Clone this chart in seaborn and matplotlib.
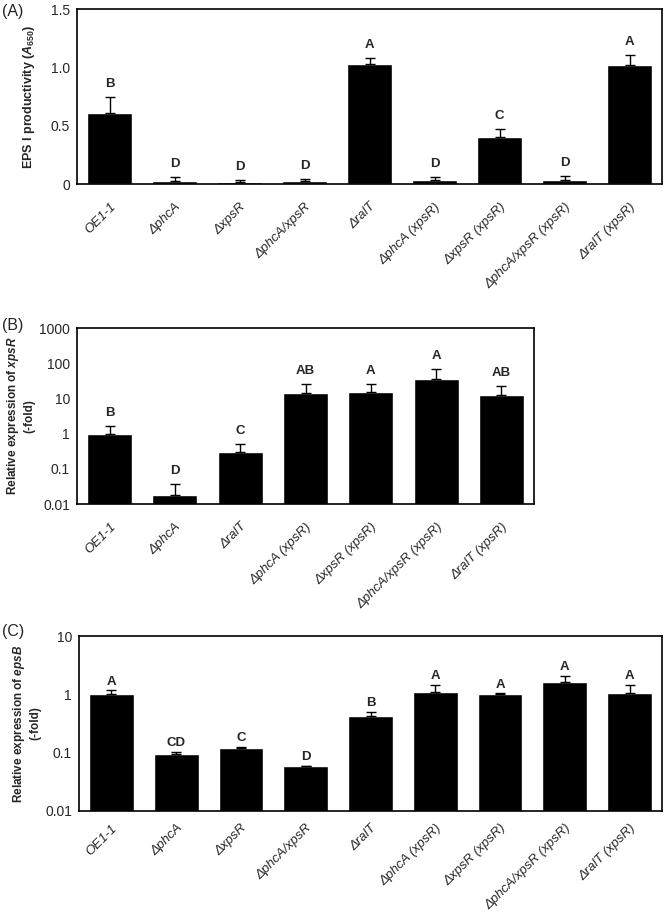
import numpy as np
import pandas as pd
import matplotlib
matplotlib.use("Agg")
import matplotlib.pyplot as plt
import seaborn as sns

# strains and values
strains_a = ["OE1-1", "ΔphcA", "ΔxpsR", "ΔphcA/xpsR", "ΔralT",
             "ΔphcA (xpsR)", "ΔxpsR (xpsR)", "ΔphcA/xpsR (xpsR)", "ΔralT (xpsR)"]
eps_mean = [0.606, 0.026, 0.020, 0.026, 1.03, 0.034, 0.406, 0.034, 1.02]
eps_err = [0.137, 0.031, 0.011, 0.014, 0.047, 0.023, 0.065, 0.032, 0.086]
letters_a = ["B", "D", "D", "D", "A", "D", "C", "D", "A"]

strains_b = ["OE1-1", "ΔphcA", "ΔralT", "ΔphcA (xpsR)", "ΔxpsR (xpsR)",
             "ΔphcA/xpsR (xpsR)", "ΔralT (xpsR)"]
xpsr_mean = [1.0, 0.018, 0.30, 13.8, 14.8, 34.5, 12.2]
xpsr_err = [0.68, 0.018, 0.22, 11.2, 11.7, 34.5, 10.6]
letters_b = ["B", "D", "C", "AB", "A", "A", "AB"]

strains_c = strains_a
epsb_mean = [1.0, 0.094, 0.120, 0.058, 0.43, 1.11, 1.01, 1.64, 1.05]
epsb_err = [0.17, 0.009, 0.007, 0.002, 0.07, 0.33, 0.03, 0.41, 0.39]
letters_c = ["A", "CD", "C", "D", "B", "A", "A", "A", "A"]

sns.set_style("white")
plt.rcParams["font.family"] = ["Liberation Sans", "DejaVu Sans"]
plt.rcParams["mathtext.fontset"] = "custom"
plt.rcParams["mathtext.it"] = "Liberation Sans:italic:bold"
plt.rcParams["mathtext.rm"] = "Liberation Sans:bold"

fig = plt.figure(figsize=(6.66, 9.14), dpi=100)
W, H = 666, 914


def add_ax(left, top, right, bottom):
    return fig.add_axes([left / W, 1 - bottom / H, (right - left) / W, (bottom - top) / H])


def panel(ax, names, mean, err, letters, offset, xpad=12):
    df = pd.DataFrame({"strain": names, "value": mean})
    sns.barplot(data=df, x="strain", y="value", color="black", width=0.69,
                saturation=1, ax=ax)
    x = np.arange(len(names))
    ax.errorbar(x, mean, yerr=[np.zeros(len(err)), err], fmt="none",
                ecolor="black", elinewidth=1, capsize=3.5, capthick=1)
    for xi, m, e, lab in zip(x, mean, err, letters):
        ax.annotate(lab, (xi, m + e), xytext=(0, offset), textcoords="offset points",
                    ha="center", va="bottom", fontsize=9.5, fontweight="bold")
    ax.set_xlim(-0.5, len(names) - 0.5)
    ax.set_xlabel("")
    ax.set_xticks(x)
    ax.set_xticklabels(names, rotation=45, ha="right", rotation_mode="anchor",
                       style="italic", fontsize=9.5)
    ax.tick_params(axis="y", length=0, pad=5, labelsize=10)
    ax.tick_params(axis="x", length=0, pad=xpad)
    for s in ax.spines.values():
        s.set_color("black")
        s.set_linewidth(1.2)


# (A)
ax1 = add_ax(77, 9, 662, 184)
panel(ax1, strains_a, eps_mean, eps_err, letters_a, 5)
ax1.set_ylim(0, 1.5)
ax1.set_yticks([0, 0.5, 1.0, 1.5])
ax1.set_yticklabels(["0", "0.5", "1.0", "1.5"])
ax1.set_ylabel(r"EPS I productivity ($\it{A}_{\it{650}}$)", fontweight="bold",
               fontsize=9, labelpad=10)

# (B)
ax2 = add_ax(77, 328, 534, 504)
ax2.set_yscale("log")
panel(ax2, strains_b, xpsr_mean, xpsr_err, letters_b, 5)
ax2.set_ylim(0.01, 1000)
ax2.set_yticks([0.01, 0.1, 1, 10, 100, 1000])
ax2.set_yticklabels(["0.01", "0.1", "1", "10", "100", "1000"])
ax2.minorticks_off()
ax2.set_ylabel("Relative expression of $\\it{xpsR}$\n(-fold)", fontweight="bold",
               fontsize=8.5, labelpad=3)

# (C)
ax3 = add_ax(79, 636, 662, 811)
ax3.set_yscale("log")
panel(ax3, strains_c, epsb_mean, epsb_err, letters_c, 2, xpad=8)
ax3.set_ylim(0.01, 10)
ax3.set_yticks([0.01, 0.1, 1, 10])
ax3.set_yticklabels(["0.01", "0.1", "1", "10"])
ax3.minorticks_off()
ax3.set_ylabel("Relative expression of $\\it{epsB}$\n(-fold)", fontweight="bold",
               fontsize=8.5, labelpad=3)

for lab, y in [("(A)", 4), ("(B)", 318), ("(C)", 624)]:
    fig.text(2 / W, 1 - y / H, lab, fontsize=11.5, ha="left", va="top")

fig.savefig("out.png", dpi=100)
